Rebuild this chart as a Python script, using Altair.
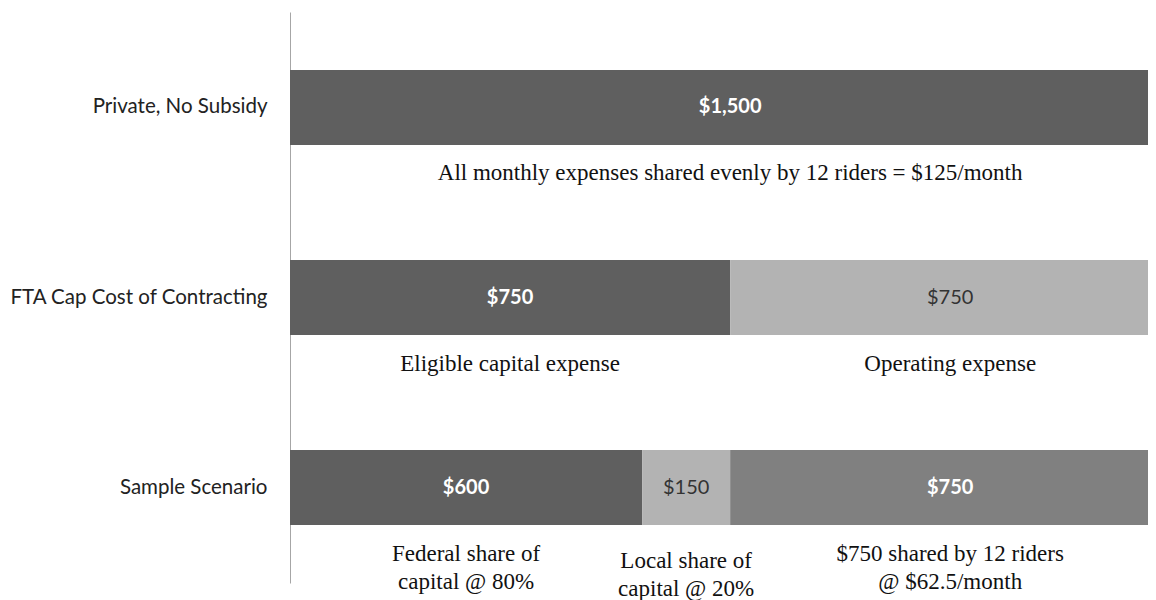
import altair as alt
import pandas as pd

# ---- data ----
scenarios = ["Private, No Subsidy", "FTA Cap Cost of Contracting", "Sample Scenario"]

seg_row = [
    "Private, No Subsidy",
    "FTA Cap Cost of Contracting",
    "FTA Cap Cost of Contracting",
    "Sample Scenario",
    "Sample Scenario",
    "Sample Scenario",
]
seg_kind = ["Total", "Capital", "Operating", "Federal", "Local", "Riders"]
seg_value = [1500, 750, 750, 600, 150, 750]
seg_label = ["$1,500", "$750", "$750", "$600", "$150", "$750"]
seg_note = [
    "All monthly expenses shared evenly by 12 riders = $125/month",
    "Eligible capital expense",
    "Operating expense",
    "Federal share of\ncapital @ 80%",
    "Local share of\ncapital @ 20%",
    "$750 shared by 12 riders\n@ $62.5/month",
]

kind_domain = ["Total", "Capital", "Operating", "Federal", "Local", "Riders"]
kind_colors = ["#5f5f5f", "#5f5f5f", "#b3b3b3", "#5f5f5f", "#b3b3b3", "#808080"]
light_kinds = ["Operating", "Local"]

df = pd.DataFrame(
    {"row": seg_row, "kind": seg_kind, "value": seg_value,
     "label": seg_label, "note": seg_note}
)
df["end"] = df.groupby("row", sort=False)["value"].cumsum()
df["start"] = df["end"] - df["value"]
df["mid"] = (df["start"] + df["end"]) / 2

xscale = alt.Scale(domain=[0, 1462], nice=False, zero=True)
yscale = alt.Scale(domain=scenarios, paddingInner=0.605, paddingOuter=0.305)
yaxis = alt.Axis(
    title=None, domain=True, domainColor="#a6a6a6", domainWidth=1,
    ticks=False, grid=False, labelFont="Lato", labelFontSize=20.5,
    labelColor="#222222", labelPadding=23, labelLimit=0,
)

base = alt.Chart(df)

bars = base.mark_bar(clip=True).encode(
    x=alt.X("start:Q", scale=xscale, axis=None),
    x2="end:Q",
    y=alt.Y("row:N", sort=scenarios, scale=yscale, axis=yaxis),
    color=alt.Color("kind:N", scale=alt.Scale(domain=kind_domain, range=kind_colors), legend=None),
)

labels_on_dark = base.transform_filter(
    ~alt.FieldOneOfPredicate(field="kind", oneOf=light_kinds)
).mark_text(font="Lato", fontSize=20, fontWeight="bold", color="#ffffff").encode(
    x=alt.X("mid:Q", scale=xscale, axis=None),
    y=alt.Y("row:N", sort=scenarios, scale=yscale, axis=yaxis),
    text="label:N",
)

labels_on_light = base.transform_filter(
    alt.FieldOneOfPredicate(field="kind", oneOf=light_kinds)
).mark_text(font="Lato", fontSize=20, color="#333333").encode(
    x=alt.X("mid:Q", scale=xscale, axis=None),
    y=alt.Y("row:N", sort=scenarios, scale=yscale, axis=yaxis),
    text="label:N",
)

notes = base.transform_filter(alt.datum.kind != "Local").mark_text(
    font="Liberation Serif", fontSize=23, baseline="alphabetic", dy=73,
    lineBreak="\n", lineHeight=28, color="#111111",
).encode(
    x=alt.X("mid:Q", scale=xscale, axis=None),
    y=alt.Y("row:N", sort=scenarios, scale=yscale, axis=yaxis),
    text="note:N",
)

notes_local = base.transform_filter(alt.datum.kind == "Local").mark_text(
    font="Liberation Serif", fontSize=23, baseline="alphabetic", dy=80,
    lineBreak="\n", lineHeight=28, color="#111111",
).encode(
    x=alt.X("mid:Q", scale=xscale, axis=None),
    y=alt.Y("row:N", sort=scenarios, scale=yscale, axis=yaxis),
    text="note:N",
)

chart = alt.layer(bars, labels_on_dark, labels_on_light, notes, notes_local).properties(
    width=858,
    height=571,
    autosize=alt.AutoSizeParams(type="none"),
    padding={"left": 282, "top": 4, "right": 0, "bottom": 17},
    background="#ffffff",
).configure_view(stroke=None)

chart.save("out.html", embed_options={"renderer": "svg", "actions": False})
